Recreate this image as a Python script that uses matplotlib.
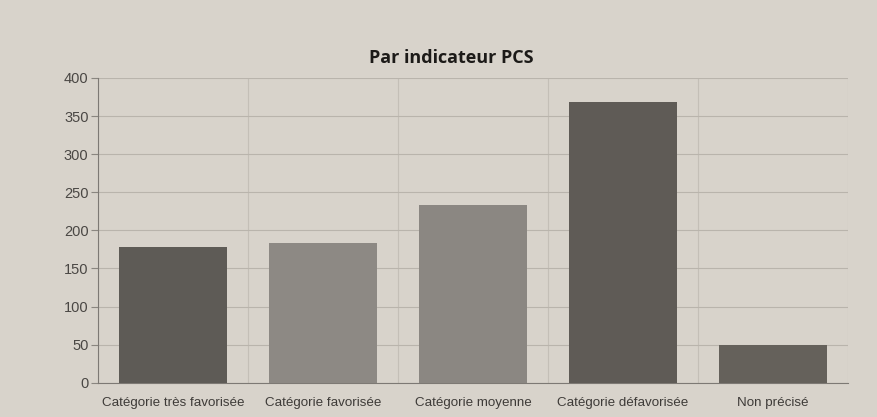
import numpy as np
import matplotlib.pyplot as plt

# data
categories = ['Catégorie très favorisée', 'Catégorie favorisée', 'Catégorie moyenne',
              'Catégorie défavorisée', 'Non précisé']
values = [178, 184, 233, 368, 50]
bar_colors = ['#5e5b56', '#8d8984', '#8b8782', '#5f5b56', '#65615b']
y_ticks = [0, 50, 100, 150, 200, 250, 300, 350, 400]

paper = '#d8d3cb'

fig = plt.figure(figsize=(8.77, 4.17), dpi=100)
fig.patch.set_facecolor(paper)
ax = fig.add_axes([0.112, 0.082, 0.855, 0.731])
ax.set_facecolor(paper)

x = np.arange(len(categories))
ax.bar(x, values, width=0.72, color=bar_colors, zorder=3)

ax.set_xlim(-0.5, len(categories) - 0.5)
ax.set_ylim(0, 400)
ax.set_yticks(y_ticks)
ax.set_xticks(x)
ax.set_xticklabels(categories, fontsize=9.6, family='Liberation Sans', color='#3e3b38')
for lbl in ax.get_yticklabels():
    lbl.set_fontsize(10.5)
    lbl.set_family('Liberation Sans')
    lbl.set_color('#4a4744')

# horizontal grid + vertical separators between categories
ax.grid(axis='y', color='#b9b4ac', linewidth=0.8, zorder=0)
ax.set_xticks(np.arange(len(categories) + 1) - 0.5, minor=True)
ax.grid(axis='x', which='minor', color='#c4bfb7', linewidth=0.8, zorder=0)
ax.tick_params(axis='x', which='major', length=0, pad=10)
ax.tick_params(axis='x', which='minor', length=0)
ax.tick_params(axis='y', length=5, color='#8a8680', pad=2)

for side in ['top', 'right']:
    ax.spines[side].set_visible(False)
ax.spines['left'].set_color('#7d7974')
ax.spines['bottom'].set_color('#7d7974')

fig.text(0.515, 0.86, 'Par indicateur PCS', ha='center', va='center',
         fontsize=13, fontweight='bold', family='Open Sans', color='#1c1a18')

plt.savefig('out.png', dpi=100, facecolor=fig.get_facecolor())
